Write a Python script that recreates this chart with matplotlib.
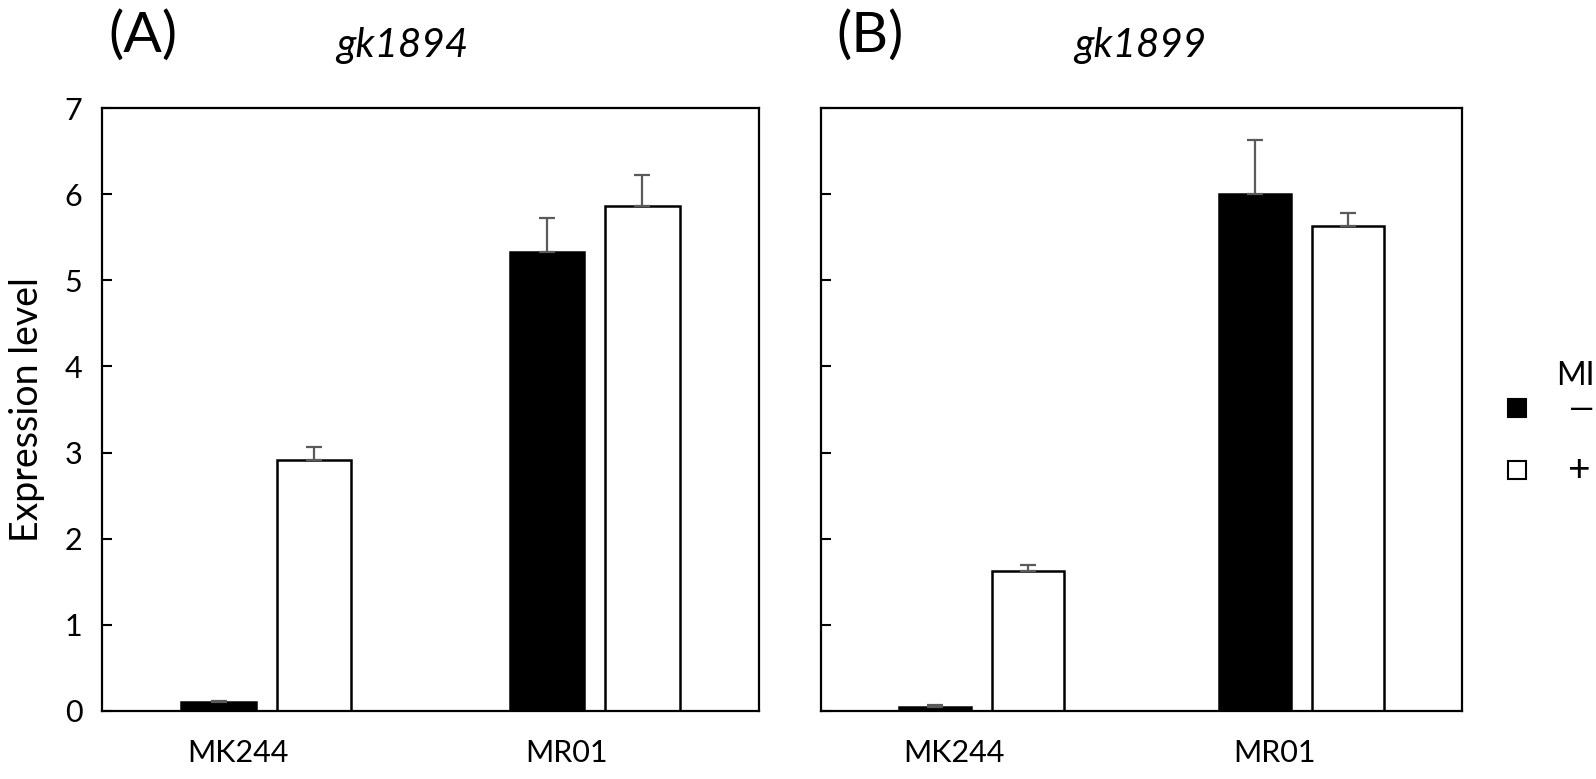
import matplotlib
matplotlib.use("Agg")
import matplotlib.pyplot as plt
import numpy as np

plt.rcParams['font.family'] = ['Lato', 'DejaVu Sans']

strains = ["MK244", "MR01"]
titles = ["gk1894", "gk1899"]
panel_labels = ["(A)", "(B)"]
yticks = [0, 1, 2, 3, 4, 5, 6, 7]

# panel A
a_minus = [0.10, 5.33]
a_minus_err = [0.02, 0.39]
a_plus = [2.91, 5.86]
a_plus_err = [0.15, 0.36]
# panel B
b_minus = [0.05, 6.00]
b_minus_err = [0.02, 0.63]
b_plus = [1.63, 5.63]
b_plus_err = [0.06, 0.15]

legend_title = "MI"
legend_labels = ["\u2014", "+"]

fig = plt.figure(figsize=(15.96, 7.79), dpi=100)
W, H = 1596, 779
axA = fig.add_axes([102 / W, (779 - 711) / H, 657 / W, 603 / H])
axB = fig.add_axes([821 / W, (779 - 711) / H, 641 / W, 603 / H])

gray = "#5a5a5a"
x = np.arange(len(strains))
width = 0.226
off = 0.145

for ax, minus, merr, plus, perr in [(axA, a_minus, a_minus_err, a_plus, a_plus_err),
                                    (axB, b_minus, b_minus_err, b_plus, b_plus_err)]:
    ax.bar(x - off, minus, width, color="black", edgecolor="black", linewidth=1.8,
           yerr=[np.zeros(len(merr)), merr],
           error_kw=dict(ecolor=gray, elinewidth=1.6, capsize=6, capthick=1.6), zorder=2)
    ax.bar(x + off, plus, width, color="white", edgecolor="black", linewidth=1.8,
           yerr=[np.zeros(len(perr)), perr],
           error_kw=dict(ecolor=gray, elinewidth=1.6, capsize=6, capthick=1.6), zorder=2)
    ax.set_xlim(-0.5, 1.5)
    ax.set_ylim(0, 7)
    ax.set_yticks(yticks)
    ax.set_xticks(x - 0.085)
    ax.set_xticklabels(strains, fontsize=22)
    ax.tick_params(axis='x', length=0, pad=20)
    ax.tick_params(axis='y', direction='in', length=7, width=1.5, labelsize=22, pad=14)
    for s in ax.spines.values():
        s.set_linewidth(1.6)

axB.set_yticklabels([])
axA.set_ylabel("Expression level", fontsize=27, labelpad=14)

fig.text(143 / W, 1 - 36 / H, panel_labels[0], fontsize=41, ha='center', va='center')
fig.text(402 / W, 1 - 46 / H, titles[0], fontsize=29, style='italic', ha='center', va='center')
fig.text(870 / W, 1 - 36 / H, panel_labels[1], fontsize=41, ha='center', va='center')
fig.text(1140 / W, 1 - 46 / H, titles[1], fontsize=29, style='italic', ha='center', va='center')

# legend
fig.text(1595 / W, 1 - 376 / H, legend_title, fontsize=23, ha='right', va='center')
fig.patches.append(plt.Rectangle(((1517 - 9) / W, 1 - (408 + 9) / H), 18 / W, 18 / H,
                                 transform=fig.transFigure, facecolor='black', edgecolor='black', lw=1.5))
fig.patches.append(plt.Rectangle(((1517 - 9) / W, 1 - (470 + 9) / H), 18 / W, 18 / H,
                                 transform=fig.transFigure, facecolor='white', edgecolor='black', lw=1.5))
fig.text(1594 / W, 1 - 410 / H, legend_labels[0], fontsize=23, ha='right', va='center')
fig.text(1591 / W, 1 - 470 / H, legend_labels[1], fontsize=28, ha='right', va='center')

fig.savefig("out.png", dpi=100)
